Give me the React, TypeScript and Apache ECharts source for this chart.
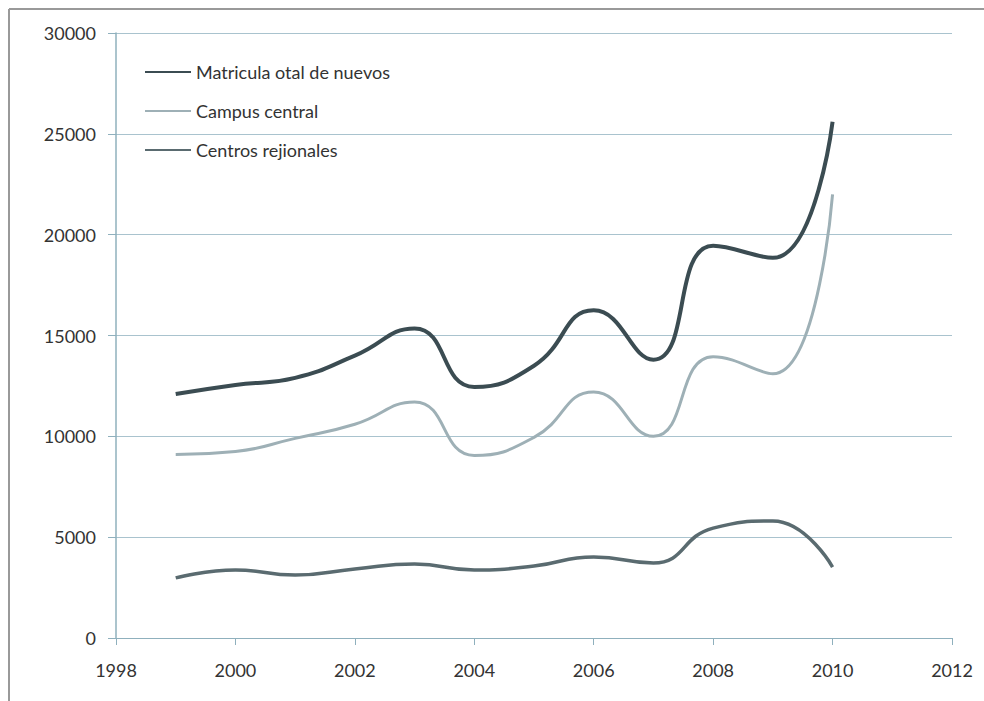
import React, { useEffect, useRef } from "react";
import * as echarts from "echarts";

const years = [1999, 2000, 2001, 2002, 2003, 2004, 2005, 2006, 2007, 2008, 2009, 2010];
const totalNuevos = [12100, 12550, 12900, 14000, 15350, 12450, 13500, 16250, 13800, 19450, 18850, 25600];
const campusCentral = [9100, 9250, 9900, 10600, 11700, 9050, 9950, 12200, 10000, 13950, 13100, 22000];
const centrosRegionales = [2980, 3370, 3120, 3420, 3670, 3370, 3570, 4020, 3720, 5450, 5800, 3520];
const seriesNames = ["Matricula otal de nuevos", "Campus central", "Centros rejionales"];

const pair = (vals: number[]) => years.map((y, i) => [y, vals[i]]);

export default function App() {
  const ref = useRef<HTMLDivElement>(null);
  useEffect(() => {
    if (!ref.current) return;
    const chart = echarts.init(ref.current, undefined, { renderer: "svg" });
    const font = "Lato, 'Open Sans', sans-serif";
    const mk = (name: string, vals: number[], color: string, width: number) => ({
      name,
      type: "line",
      data: pair(vals),
      smooth: 0.5,
      showSymbol: false,
      symbol: "none",
      lineStyle: { color, width },
      itemStyle: { color },
    });
    chart.setOption({
      animation: false,
      backgroundColor: "#ffffff",
      grid: { left: 116, right: 32, top: 33, bottom: 63 },
      legend: {
        orient: "vertical",
        left: 139,
        top: 58,
        itemWidth: 46,
        itemHeight: 14,
        itemGap: 21,
        itemStyle: { opacity: 0 },
        textStyle: { fontFamily: font, fontSize: 18, color: "#333" },
        data: seriesNames,
      },
      xAxis: {
        type: "value",
        min: 1998,
        max: 2012,
        interval: 2,
        axisLine: { show: true, lineStyle: { color: "#8fb0bd", width: 1 } },
        axisTick: { show: true, length: 7, lineStyle: { color: "#8fb0bd" } },
        splitLine: { show: false },
        axisLabel: { fontFamily: font, fontSize: 18, color: "#333", margin: 23, formatter: (v: number) => String(v) },
      },
      yAxis: {
        type: "value",
        min: 0,
        max: 30000,
        interval: 5000,
        axisLine: { show: true, lineStyle: { color: "#8fb0bd", width: 1.5 } },
        axisTick: { show: true, length: 8, lineStyle: { color: "#8fb0bd" } },
        splitLine: { show: true, lineStyle: { color: "#a9c3ce", width: 1 } },
        axisLabel: { fontFamily: font, fontSize: 18, color: "#333", margin: 20, formatter: (v: number) => String(v) },
      },
      graphic: [
        { type: "line", shape: { x1: 9, y1: 9, x2: 9, y2: 701 }, style: { stroke: "#999", lineWidth: 2 } },
        { type: "line", shape: { x1: 9, y1: 9, x2: 984, y2: 9 }, style: { stroke: "#999", lineWidth: 2 } },
      ],
      series: [
        mk(seriesNames[0], totalNuevos, "#3b4c52", 4),
        mk(seriesNames[1], campusCentral, "#9eb0b6", 3),
        mk(seriesNames[2], centrosRegionales, "#5a6b70", 3.5),
      ],
    });
    return () => chart.dispose();
  }, []);
  return <div ref={ref} style={{ width: 984, height: 701, position: "absolute", left: 0, top: 0 }} />;
}
